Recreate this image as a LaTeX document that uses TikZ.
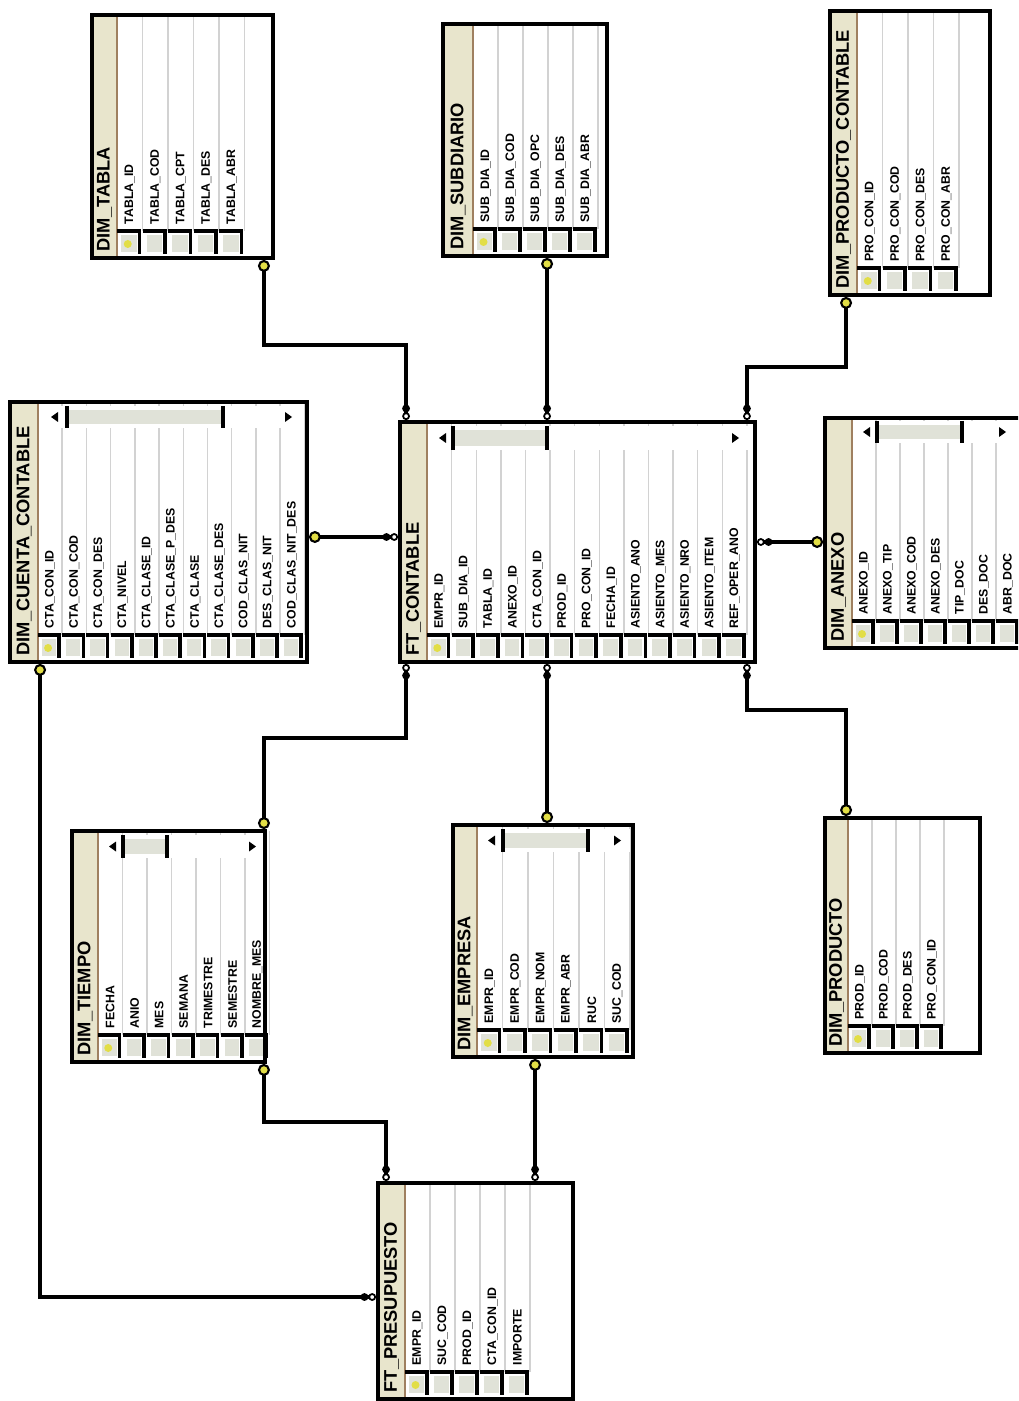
\documentclass[tikz,border=0pt]{standalone}
\usepackage{fontspec}
\setmainfont{Liberation Sans}
\usetikzlibrary{arrows.meta, calc, fit}

\definecolor{stripbeige}{RGB}{232,229,204}
\definecolor{keyyellow}{RGB}{226,222,70}
\definecolor{cellgray}{RGB}{224,226,216}

% #1 name, #2 x0, #3 y0, #4 x1, #5 y1, #6 title strip, #7 column width, #8 title, #9 fields
\newcommand{\erdtab}[9]{%
  \fill[stripbeige] (#2,#3) rectangle (#2+#6,#5);
  \draw[stripedge] (#2+#6,#3) -- (#2+#6,#5);
  \foreach \f [count=\i] in {#9} {
    \draw[gridline] (#2+#6+\i*#7,#3) -- (#2+#6+\i*#7,#5-27);
    \fill[cellgray] (#2+#6+\i*#7-#7+4,#5-23) rectangle (#2+#6+\i*#7-6,#5-6);
    \draw[cellbar] (#2+#6+\i*#7-#7,#5-27) -- (#2+#6+\i*#7-3,#5-27) -- (#2+#6+\i*#7-3,#5-4);
    \node[fieldtext] at (#2+#6+\i*#7-#7/2,#5-33) {\f};
  }
  \fill[keyyellow] (#2+#6+#7/2-2,#5-14) circle[radius=4];
  \node[titletext] at (#2+#6/2,#5-6) {#8};
  \node[tblbox, fit={(#2,#3) (#4,#5)}] (#1) {};
}

% #1 strip x, #2 right x, #3 top, #4 bottom, #5 left arrow, #6 #7 thumb, #8 right arrow
\newcommand{\erdscroll}[8]{%
  \fill[white] (#1+1,#3) rectangle (#2-3,#4);
  \fill[cellgray] (#6,#3+4) rectangle (#7,#4-4);
  \draw[cellbar] (#6,#3) -- (#6,#4);
  \draw[cellbar] (#7,#3) -- (#7,#4);
  \fill (#5-4,{(#3+#4)/2}) -- (#5+3,{(#3+#4)/2-5}) -- (#5+3,{(#3+#4)/2+5}) -- cycle;
  \fill (#8+4,{(#3+#4)/2}) -- (#8-3,{(#3+#4)/2-5}) -- (#8-3,{(#3+#4)/2+5}) -- cycle;
}

\begin{document}
\begin{tikzpicture}[
    x=0.01cm, y=-0.01cm,
    tblbox/.style={draw=black, line width=1.1pt, inner sep=0pt},
    stripedge/.style={draw=brown!50!gray, line width=0.6pt},
    gridline/.style={draw=gray!35, line width=0.4pt},
    cellbar/.style={draw=black, line width=1pt},
    fieldtext/.style={rotate=90, anchor=west, inner sep=0pt, font=\bfseries\fontsize{3.5}{4}\selectfont},
    titletext/.style={rotate=90, anchor=west, inner sep=0pt, font=\bfseries\fontsize{5.2}{6}\selectfont},
    keytip/.tip={Circle[fill=keyyellow, length=3.4pt, width=3.4pt, line width=0.6pt]},
    manytip/.tip={Circle[open, length=2.2pt, width=2.2pt, line width=0.5pt] Circle[open, length=2.2pt, width=2.2pt, line width=0.5pt]},
    rel/.style={draw=black, line width=1pt, keytip-manytip}
]
\clip (0,0) rectangle (1018,1401);
\fill[white] (0,0) rectangle (1018,1401);

% dimensiones arriba
\erdtab{tabla}{92}{15}{273}{258}{25}{25.5}{DIM\_TABLA}
  {TABLA\_ID,TABLA\_COD,TABLA\_CPT,TABLA\_DES,TABLA\_ABR}
\erdtab{subd}{443}{24}{607}{256}{30}{25}{DIM\_SUBDIARIO}
  {SUB\_DIA\_ID,SUB\_DIA\_COD,SUB\_DIA\_OPC,SUB\_DIA\_DES,SUB\_DIA\_ABR}
\erdtab{prodc}{830}{11}{990}{295}{27}{25.5}{DIM\_PRODUCTO\_CONTABLE}
  {PRO\_CON\_ID,PRO\_CON\_COD,PRO\_CON\_DES,PRO\_CON\_ABR}

% fila central
\erdtab{cuenta}{10}{402}{307}{662}{28}{24.2}{DIM\_CUENTA\_CONTABLE}
  {CTA\_CON\_ID,CTA\_CON\_COD,CTA\_CON\_DES,CTA\_NIVEL,CTA\_CLASE\_ID,CTA\_CLASE\_P\_DES,CTA\_CLASE,CTA\_CLASE\_DES,COD\_CLAS\_NIT,DES\_CLAS\_NIT,COD\_CLAS\_NIT\_DES}
\erdscroll{38}{307}{406}{428}{55}{67}{223}{288}
\erdtab{ftc}{400}{422}{755}{662}{27}{24.6}{FT\_CONTABLE}
  {EMPR\_ID,SUB\_DIA\_ID,TABLA\_ID,ANEXO\_ID,CTA\_CON\_ID,PROD\_ID,PRO\_CON\_ID,FECHA\_ID,ASIENTO\_ANO,ASIENTO\_MES,ASIENTO\_NRO,ASIENTO\_ITEM,REF\_OPER\_ANO}
\erdscroll{427}{755}{426}{450}{443}{453}{547}{735}
\erdtab{anexo}{825}{418}{1030}{648}{27}{24}{DIM\_ANEXO}
  {ANEXO\_ID,ANEXO\_TIP,ANEXO\_COD,ANEXO\_DES,TIP\_DOC,DES\_DOC,ABR\_DOC}
\erdscroll{852}{1030}{421}{443}{867}{877}{962}{1002}

% dimensiones abajo
\erdtab{tiempo}{72}{831}{265}{1062}{26}{24.5}{DIM\_TIEMPO}
  {FECHA,ANIO,MES,SEMANA,TRIMESTRE,SEMESTRE,NOMBRE\_MES}
\erdscroll{98}{265}{835}{858}{113}{123}{167}{252}
\erdtab{empr}{453}{825}{633}{1057}{24}{25.5}{DIM\_EMPRESA}
  {EMPR\_ID,EMPR\_COD,EMPR\_NOM,EMPR\_ABR,RUC,SUC\_COD}
\erdscroll{477}{633}{829}{852}{492}{503}{588}{617}
\erdtab{prod}{825}{818}{980}{1053}{23}{24}{DIM\_PRODUCTO}
  {PROD\_ID,PROD\_COD,PROD\_DES,PRO\_CON\_ID}
\erdtab{pres}{378}{1183}{573}{1399}{27}{25}{FT\_PRESUPUESTO}
  {EMPR\_ID,SUC\_COD,PROD\_ID,CTA\_CON\_ID,IMPORTE}

% relaciones
\draw[rel] ($(tabla.south east)+(-11,0)$) -- ++(0,85) -| ($(ftc.north west)+(8,0)$);
\draw[rel] ($(subd.south west)+(106,0)$) -- ($(ftc.north west)+(149,0)$);
\draw[rel] ($(prodc.south west)+(18,0)$) -- ++(0,70) -| ($(ftc.north east)+(-10,0)$);
\draw[rel] ($(cuenta.east)+(0,5)$) -- ($(ftc.west)+(0,-5)$);
\draw[rel] (ftc.east -| anexo.west) -- (ftc.east);
\draw[rel] ($(tiempo.north east)+(-3,0)$) -- ++(0,-91) -| ($(ftc.south west)+(8,0)$);
\draw[rel] ($(empr.north west)+(96,0)$) -- ($(ftc.south west)+(149,0)$);
\draw[rel] ($(prod.north west)+(23,0)$) -- ++(0,-106) -| ($(ftc.south east)+(-10,0)$);
\draw[rel] ($(tiempo.south east)+(-3,0)$) -- ++(0,58) -| ($(pres.north west)+(10,0)$);
\draw[rel] ($(empr.south west)+(84,0)$) -- ($(pres.north west)+(159,0)$);
\draw[rel] ($(cuenta.south west)+(32,0)$) |- ($(pres.west)+(0,6)$);
\end{tikzpicture}
\end{document}
